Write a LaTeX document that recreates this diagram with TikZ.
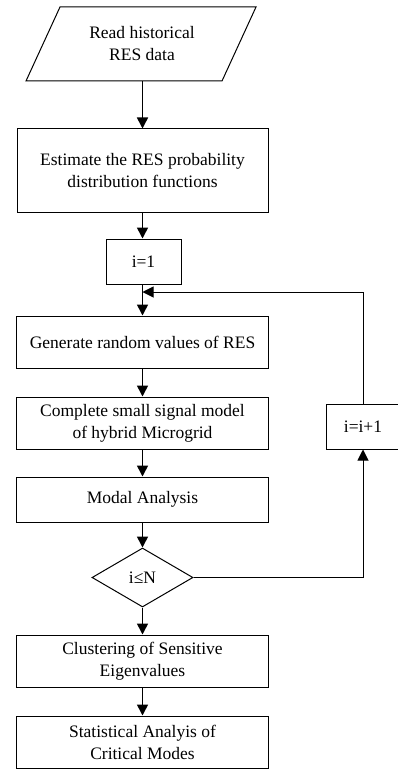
\documentclass[tikz,border=0pt]{standalone}
\usepackage{fontspec}
\setmainfont{Liberation Serif}
\usetikzlibrary{arrows.meta,shapes.geometric,calc}

\tikzset{
	blk/.style={draw, line width=1pt, rectangle, align=center, inner sep=2pt},
	inbox/.style={rectangle, align=center, inner sep=0pt},
	test/.style={draw, line width=1pt, diamond, aspect=1.7, inner sep=0pt},
	flow/.style={line width=1.6pt, -{Triangle[width=11pt,length=11pt]}},
}

\begin{document}
\begin{tikzpicture}[x=1pt, y=-1pt, font=\fontsize{17.5}{22}\selectfont]
			\useasboundingbox (0,0) rectangle (398,770);
			% input block (parallelogram drawn round its text)
			\node [inbox, minimum width=196pt, minimum height=74pt] (read) at (142,44) {Read historical\\RES data};
			\draw [line width=1pt] ($(read.center)+(-82,-37)$) -- ($(read.center)+(114,-37)$)
				-- ($(read.center)+(80,37)$) -- ($(read.center)+(-116,37)$) -- cycle;
			\node [blk, minimum width=251pt, minimum height=83pt] (est) at (142.5,170.5) {Estimate the RES probability\\distribution functions};
			\node [blk, minimum width=75pt, minimum height=45pt] (init) at (143.5,261.5) {i=1};
			\node [blk, minimum width=252pt, minimum height=52pt] (gen) at (142.5,342) {Generate random values of RES};
			\node [blk, minimum width=252pt, minimum height=52pt] (model) at (142.5,423) {Complete small signal model\\of hybrid Microgrid};
			\node [blk, minimum width=252pt, minimum height=45pt] (modal) at (142.5,499.5) {Modal Analysis};
			\node [test, minimum width=101pt, minimum height=59pt] (check) at (142.5,577.5) {i≤N};
			\node [blk, minimum width=252pt, minimum height=52pt] (cluster) at (142.5,661) {Clustering of Sensitive\\Eigenvalues};
			\node [blk, minimum width=252pt, minimum height=52pt] (stat) at (142.5,742) {Statistical Analyis of\\Critical Modes};
			\node [blk, minimum width=74pt, minimum height=45pt] (incr) at (363,426.5) {i=i+1};
			\coordinate (join) at (142.5,292);
			\draw [flow] (read.south -| est.north) -- (est.north);
			\draw [flow] (est.south) -- (est.south |- init.north);
			\draw [flow] (init.south -| gen.north) -- (gen.north);
			\draw [flow] (gen) -- (model);
			\draw [flow] (model) -- (modal);
			\draw [flow] (modal) -- (check);
			\draw [flow] (check) -- (cluster);
			\draw [flow] (cluster) -- (stat);
			\draw [flow, line width=1pt] (check.east) -| (incr.south);
			\draw [flow, line width=1pt] (incr.north) |- (join);
\end{tikzpicture}
\end{document}
